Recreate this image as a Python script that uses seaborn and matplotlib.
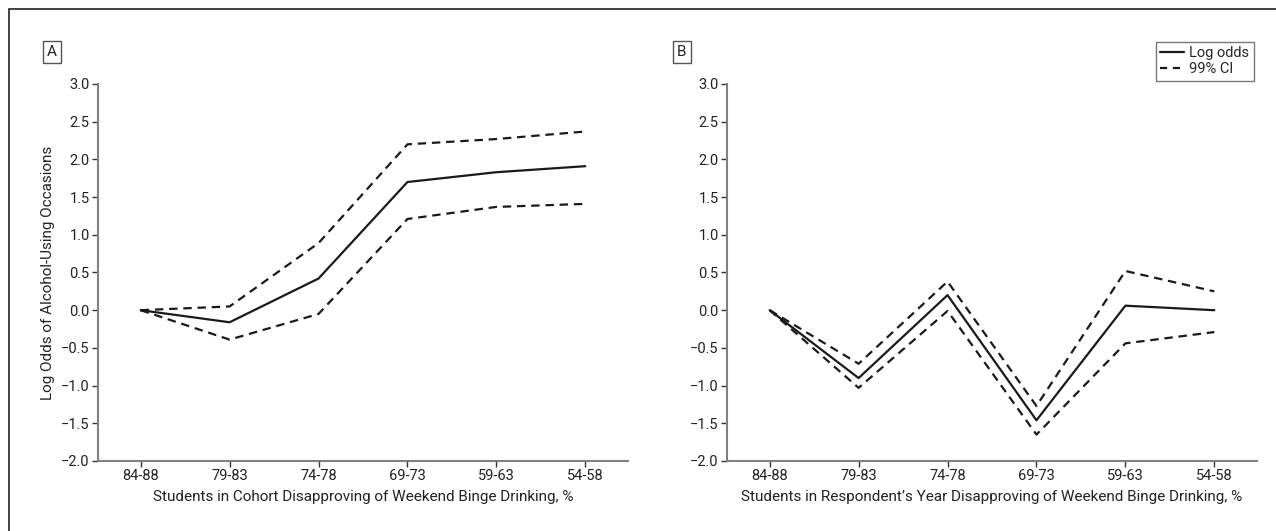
import numpy as np
import pandas as pd
import matplotlib
matplotlib.use("Agg")
import matplotlib.pyplot as plt
from matplotlib.patches import Rectangle
from matplotlib.lines import Line2D
import seaborn as sns

# categorias del eje x (porcentaje de desaprobacion)
categories = ["84-88", "79-83", "74-78", "69-73", "59-63", "54-58"]

# panel A: cohorte
a_log_odds = [0.00, -0.16, 0.42, 1.70, 1.83, 1.91]
a_ci_upper = [0.00, 0.05, 0.89, 2.20, 2.27, 2.37]
a_ci_lower = [0.00, -0.39, -0.05, 1.21, 1.37, 1.41]

# panel B: año del respondente
b_log_odds = [0.00, -0.90, 0.20, -1.46, 0.06, 0.00]
b_ci_upper = [0.00, -0.71, 0.38, -1.27, 0.52, 0.25]
b_ci_lower = [0.00, -1.03, -0.01, -1.65, -0.44, -0.29]

y_ticks = [-2.0, -1.5, -1.0, -0.5, 0.0, 0.5, 1.0, 1.5, 2.0, 2.5, 3.0]

sns.set_style("ticks")
plt.rcParams["font.family"] = ["Roboto", "DejaVu Sans"]
plt.rcParams["font.size"] = 10.5

W, H = 1276, 531
fig = plt.figure(figsize=(W / 100, H / 100), dpi=100)

# borde exterior de la figura
fig.patches.append(Rectangle((9 / W, -0.05), 1.2, 1 - 9 / H + 0.05, transform=fig.transFigure,
                             fill=False, edgecolor="#222222", linewidth=1.2))

ax_a = fig.add_axes([98 / W, 1 - 461 / H, 530 / W, 377 / H])
ax_b = fig.add_axes([727 / W, 1 - 461 / H, 530 / W, 377 / H])


def make_df(log_odds, upper, lower):
    rows = []
    for name, vals in [("log", log_odds), ("upper", upper), ("lower", lower)]:
        for i, v in enumerate(vals):
            rows.append({"pos": i, "value": v, "series": name})
    return pd.DataFrame(rows)


def draw_panel(ax, df, xlabel, letter, letter_x):
    sns.lineplot(data=df[df.series == "log"], x="pos", y="value", ax=ax,
                 color="#1a1a1a", linewidth=1.6)
    for s in ["upper", "lower"]:
        sns.lineplot(data=df[df.series == s], x="pos", y="value", ax=ax,
                     color="#1a1a1a", linewidth=1.6, dashes=False,
                     linestyle=(0, (3.8, 2.6)))
    ax.set_xlim(-0.48, 5.48)
    ax.set_ylim(-2.0, 3.0)
    ax.set_xticks(range(len(categories)))
    ax.set_xticklabels(categories)
    ax.set_yticks(y_ticks)
    ax.set_yticklabels([f"{t:.1f}".replace("-", "\u2212") for t in y_ticks])
    ax.set_xlabel(xlabel, fontsize=11, color="#222222", labelpad=5)
    ax.set_ylabel("")
    sns.despine(ax=ax)
    for sp in ["left", "bottom"]:
        ax.spines[sp].set_color("#808080")
        ax.spines[sp].set_linewidth(1.5)
    ax.tick_params(axis="both", length=4, width=1, color="#333333",
                   labelcolor="#222222", labelsize=10.5, pad=2)
    fig.text(letter_x / W, 1 - 52 / H, letter, fontsize=11, ha="center", va="center",
             color="#222222",
             bbox=dict(boxstyle="square,pad=0.25", fc="white", ec="#555555", lw=1))


draw_panel(ax_a, make_df(a_log_odds, a_ci_upper, a_ci_lower),
           "Students in Cohort Disapproving of Weekend Binge Drinking, %", "A", 52)
draw_panel(ax_b, make_df(b_log_odds, b_ci_upper, b_ci_lower),
           "Students in Respondent\u2019s Year Disapproving of Weekend Binge Drinking, %", "B", 682)

ax_a.set_ylabel("Log Odds of Alcohol-Using Occasions", fontsize=11, color="#222222", labelpad=4)

handles = [Line2D([], [], color="#1a1a1a", lw=1.6),
           Line2D([], [], color="#1a1a1a", lw=1.6, linestyle=(0, (3.2, 2.6)))]
leg = ax_b.legend(handles, ["Log odds", "99% CI"], loc="upper right",
                  bbox_to_anchor=(0.994, 1.112), frameon=True, fancybox=False,
                  fontsize=10.5, handlelength=1.6, handletextpad=0.4,
                  borderpad=0.3, labelspacing=0.15, borderaxespad=0)
leg.get_frame().set_edgecolor("#555555")
leg.get_frame().set_linewidth(1)

fig.savefig("out.png", dpi=100)
